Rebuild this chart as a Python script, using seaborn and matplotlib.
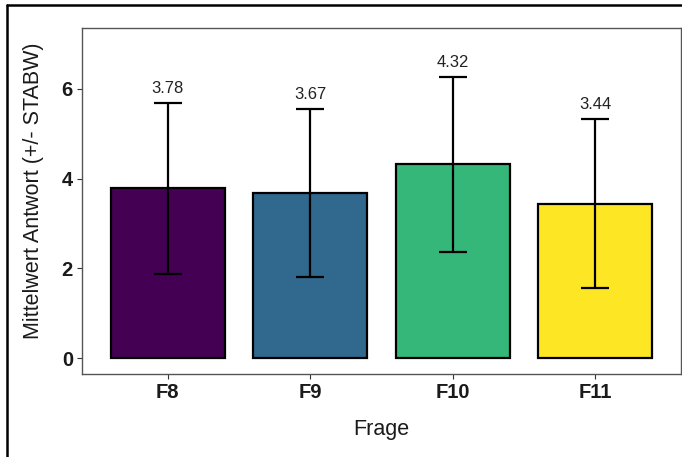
import matplotlib
matplotlib.use('Agg')
import matplotlib.pyplot as plt
import seaborn as sns
import pandas as pd
from matplotlib.lines import Line2D

# Daten
fragen = ['F8', 'F9', 'F10', 'F11']
mittelwerte = [3.78, 3.67, 4.32, 3.44]
stabw = [1.91, 1.87, 1.95, 1.88]
farben = ['#440154', '#31688E', '#35B779', '#FDE725']

df = pd.DataFrame({'Frage': fragen, 'Mittelwert': mittelwerte, 'STABW': stabw})

sns.set_style('white')
plt.rcParams['font.family'] = ['Liberation Sans', 'DejaVu Sans']

fig = plt.figure(figsize=(6.82, 4.57), dpi=100)
ax = fig.add_axes([82/682, (457-374)/457, 599/682, 346/457])

sns.barplot(data=df, x='Frage', y='Mittelwert', hue='Frage', palette=farben,
            saturation=1, errorbar=None, width=0.8, edgecolor='black',
            linewidth=1.6, legend=False, ax=ax)

# Fehlerbalken (+/- STABW)
ax.errorbar(x=range(len(fragen)), y=df['Mittelwert'], yerr=df['STABW'],
            fmt='none', ecolor='black', elinewidth=1.6, capsize=10, capthick=1.6)

# Beschriftung der Mittelwerte
for i, (m, s) in enumerate(zip(mittelwerte, stabw)):
    ax.annotate(f'{m:.2f}', xy=(i, m + s), xytext=(0, 5), textcoords='offset points',
                ha='center', va='bottom', fontsize=12, color='#222222')

ax.set_xlim(-0.6, 3.6)
ax.set_ylim(-0.35, 7.35)
ax.set_yticks([0, 2, 4, 6])

ax.set_xlabel('Frage', fontsize=15.5, color='#1a1a1a', labelpad=12)
ax.set_ylabel('Mittelwert Antwort (+/- STABW)', fontsize=15.5, color='#1a1a1a', labelpad=13)
ax.yaxis.label.set_y(0.53)
ax.tick_params(axis='both', length=3.5, width=0.8, color='#333333', labelsize=14.5,
               labelcolor='#1a1a1a', pad=3, direction='out', bottom=True, left=True)
for lab in ax.get_xticklabels() + ax.get_yticklabels():
    lab.set_fontweight('bold')

for sp in ax.spines.values():
    sp.set_visible(True)
    sp.set_color('#555555')
    sp.set_linewidth(1.0)

# Rahmen des Screenshots
fig.add_artist(Line2D([7/682, 7/682], [0, 1 - 5/457], color='black', lw=1.8))
fig.add_artist(Line2D([7/682, 1], [1 - 5/457, 1 - 5/457], color='black', lw=1.8))

fig.savefig('out.png', dpi=100)
